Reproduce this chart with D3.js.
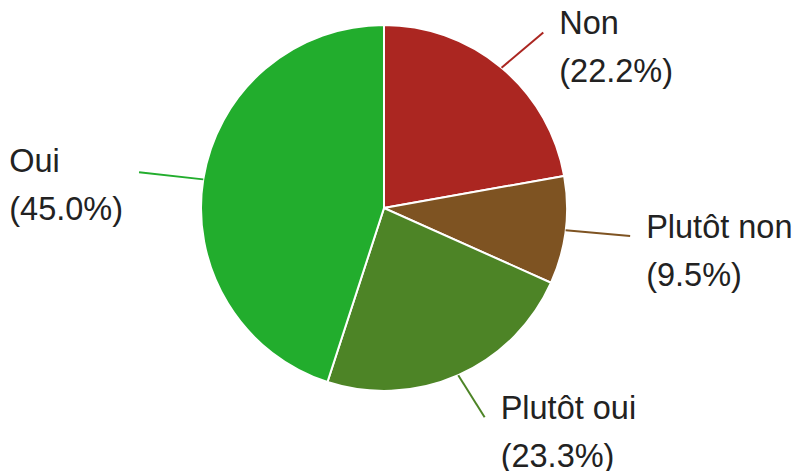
<!DOCTYPE html>
<html><head><meta charset="utf-8">
<script src="https://cdn.jsdelivr.net/npm/d3@7"></script>
<style>html,body{margin:0;padding:0;background:#fff;}svg{display:block;}</style>
</head><body>
<svg id="chart" width="797" height="471"></svg>
<script>
const categories = ["Non", "Plutôt non", "Plutôt oui", "Oui"];
const values = [22.2, 9.5, 23.3, 45.0];
const colors = ["#ab2621", "#7e5322", "#4d8426", "#22ad2d"];

const W = 797, H = 471;
const cx = 384, cy = 208, R = 183;
const svg = d3.select("#chart");
const g = svg.append("g").attr("transform", `translate(${cx},${cy})`);

const pie = d3.pie().sort(null).value(d => d.v);
const data = pie(categories.map((c, i) => ({c, v: values[i], col: colors[i]})));
const arc = d3.arc().innerRadius(0).outerRadius(R);

g.selectAll("path.slice").data(data).join("path")
  .attr("class", "slice")
  .attr("d", arc)
  .attr("fill", d => d.data.col)
  .attr("stroke", "#fff")
  .attr("stroke-width", 2);

const fs = 32.5, lh = 48, gap = 16;
const rx = 248, ry = 229;
data.forEach(d => {
  const a = (d.startAngle + d.endAngle) / 2;
  const x0 = R * Math.sin(a), y0 = -R * Math.cos(a);
  const x1 = rx * Math.sin(a), y1 = -ry * Math.cos(a);
  g.append("line")
    .attr("x1", x0).attr("y1", y0).attr("x2", x1).attr("y2", y1)
    .attr("stroke", d.data.col).attr("stroke-width", 2);
  const right = x1 >= 0;
  const t = g.append("text")
    .attr("font-family", "Arial, 'Liberation Sans', sans-serif")
    .attr("font-size", fs)
    .attr("fill", "#222");
  const lines = [d.data.c, `(${d.data.v.toFixed(1)}%)`];
  lines.forEach((s, i) => {
    t.append("tspan").attr("x", 0).attr("y", i * lh).text(s);
  });
  if (right) {
    t.attr("transform", `translate(${x1 + gap},${y1 + 2})`);
  } else {
    const bw = t.node().getBBox().width;
    t.attr("transform", `translate(${x1 - gap - bw},${y1})`);
  }
});
</script>
</body></html>
